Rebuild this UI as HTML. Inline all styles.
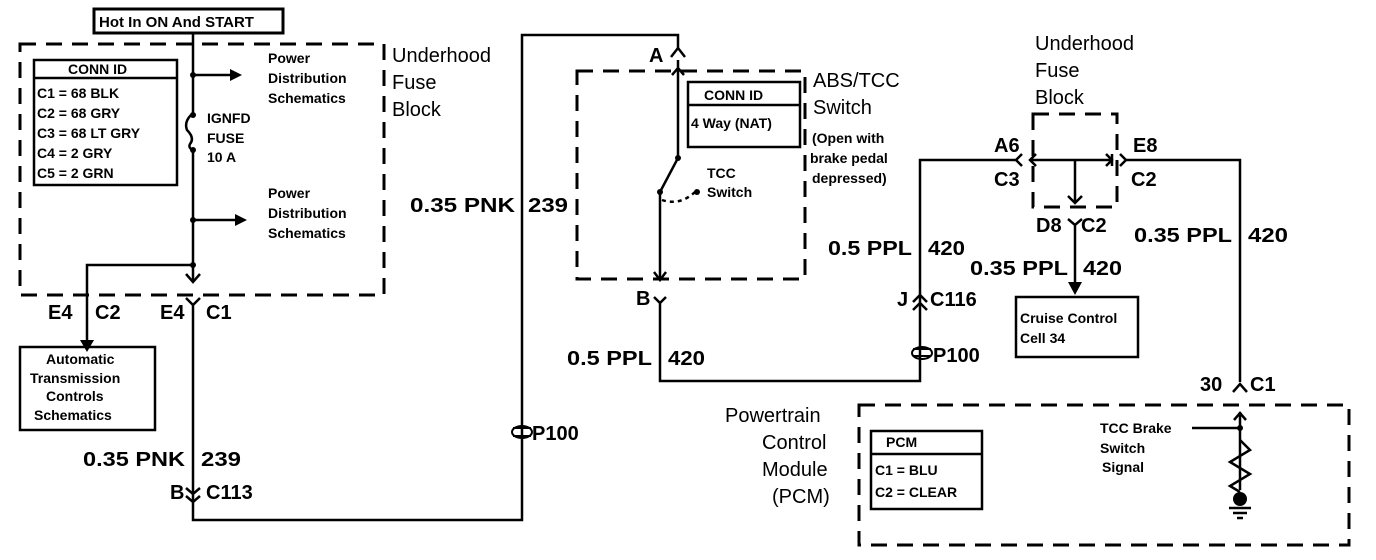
<!DOCTYPE html>
<html><head><style>
body{margin:0;background:#fff}
svg{display:block}
text{font-family:"Liberation Sans",Arial,sans-serif;font-weight:bold;fill:#000}
</style></head><body>
<svg width="1376" height="560" viewBox="0 0 1376 560" xmlns="http://www.w3.org/2000/svg">
<g fill="none" stroke="#000" stroke-width="3" stroke-dasharray="16,10">
<rect x="20" y="44" width="364" height="251"/>
<rect x="577" y="71" width="228" height="208"/>
<rect x="1033" y="114" width="84" height="93"/>
<rect x="859" y="405" width="490" height="140"/>
</g>
<g fill="none" stroke="#000" stroke-width="2.5">
<rect x="94" y="9" width="189" height="24" stroke-width="3"/>
<rect x="34" y="60" width="143" height="125"/>
<line x1="34" y1="78" x2="177" y2="78"/>
<rect x="688" y="82" width="112" height="65"/>
<line x1="688" y1="105" x2="800" y2="105"/>
<rect x="20" y="347" width="135" height="83"/>
<rect x="1016" y="297" width="122" height="60"/>
<rect x="871" y="431" width="111" height="78"/>
<line x1="871" y1="454" x2="982" y2="454"/>
<path d="M193 33 V115 M193 150 V282"/>
<path d="M191 115 Q184 122 187 130 Q195 138 190 144 Q188 148 193 150"/>
<path d="M193 75 H230 M193 220 H235"/>
<path d="M193 265 H87 V342"/>
<path d="M186 274 L193 282 L200 274"/>
<path d="M186 298 L193 305 L200 298 M193 305 V520 H522 V35 H678 V48"/>
<path d="M186 488 L193 494 L200 488 M186 496 L193 502 L200 496"/>
<path d="M671 57 L678 48 L685 57"/>
<path d="M678 60 V158 L660 192 M672 75 L678 68 L684 75 M660 192 V280"/>
<path d="M654 272 L660 280 L666 272"/>
<path d="M662 200 Q680 206 695 192" stroke-dasharray="4,4"/>
<path d="M654 297 L660 303 L666 297 M660 303 V381 H920 V160 H1016"/>
<path d="M913 302 L920 295 L927 302 M913 310 L920 303 L927 310"/>
<path d="M1022 154 L1016 160 L1022 166 M1036 154 L1030 160 L1036 166 M1030 160 H1112 M1112 154 V166 M1106 154 L1112 160 L1106 166 M1120 154 L1126 160 L1120 166 M1126 160 H1240 V382"/>
<path d="M1075 160 V203 M1068 196 L1075 203 L1082 196"/>
<path d="M1068 219 L1075 225 L1082 219 M1075 225 V285"/>
<path d="M1233 392 L1240 384 L1247 392"/>
<path d="M1240 412 V490 M1234 420 L1240 413 L1246 420"/>
<path d="M1192 428 H1240"/>
<path d="M1240 440 L1250 450 L1230 462 L1250 474 L1230 486 L1240 492"/>
<path d="M1229 508 H1251 M1233 513 H1247 M1237 518 H1243"/>
<path d="M513 428 H531 M513 436 H531 M913 349 H931 M913 356 H931" stroke-width="2"/>
</g>
<g fill="#000">
<polygon points="230,69 242,75 230,81"/><polygon points="235,214 247,220 235,226"/>
<polygon points="80,340 87,352 94,340"/><polygon points="1068,282 1075,295 1082,282"/>
<circle cx="193" cy="75" r="3"/><circle cx="193" cy="115" r="3"/><circle cx="193" cy="150" r="3"/><circle cx="193" cy="220" r="3"/><circle cx="193" cy="265" r="3"/>
<circle cx="678" cy="158" r="3"/><circle cx="660" cy="192" r="3"/><circle cx="697" cy="192" r="3"/>
<circle cx="1240" cy="428" r="3"/><circle cx="1240" cy="499" r="7"/>
<ellipse cx="522" cy="432" rx="10" ry="6" fill="none" stroke="#000" stroke-width="2"/>
<ellipse cx="922" cy="353" rx="10" ry="6" fill="none" stroke="#000" stroke-width="2"/>
</g>
<g font-size="14">
<text x="99" y="27" font-size="15">Hot In ON And START</text>
<text x="68" y="74">CONN ID</text>
<text x="37" y="98">C1 = 68 BLK</text><text x="37" y="118">C2 = 68 GRY</text><text x="37" y="138">C3 = 68 LT GRY</text><text x="37" y="158">C4 =  2 GRY</text><text x="37" y="178">C5 =  2 GRN</text>
<text x="268" y="63">Power</text><text x="268" y="83">Distribution</text><text x="268" y="103">Schematics</text>
<text x="207" y="123">IGNFD</text><text x="207" y="143">FUSE</text><text x="207" y="162">10 A</text>
<text x="268" y="198">Power</text><text x="268" y="218">Distribution</text><text x="268" y="238">Schematics</text>
<text x="46" y="364">Automatic</text><text x="30" y="383">Transmission</text><text x="46" y="401">Controls</text><text x="34" y="420">Schematics</text>
<text x="704" y="100">CONN ID</text><text x="691" y="128">4 Way (NAT)</text>
<text x="707" y="178">TCC</text><text x="707" y="197">Switch</text>
<text x="812" y="143">(Open with</text><text x="810" y="163">brake pedal</text><text x="812" y="183">depressed)</text>
<text x="1020" y="323">Cruise Control</text><text x="1020" y="343">Cell 34</text>
<text x="886" y="447">PCM</text><text x="875" y="475">C1 = BLU</text><text x="875" y="497">C2 = CLEAR</text>
<text x="1100" y="433">TCC Brake</text><text x="1100" y="453">Switch</text><text x="1102" y="472">Signal</text>
</g>
<g font-size="20">
<text x="392" y="62" style="font-weight:normal">Underhood</text><text x="392" y="89" style="font-weight:normal">Fuse</text><text x="392" y="116" style="font-weight:normal">Block</text>
<text x="813" y="87" style="font-weight:normal">ABS/TCC</text><text x="813" y="114" style="font-weight:normal">Switch</text>
<text x="1035" y="50" style="font-weight:normal">Underhood</text><text x="1035" y="77" style="font-weight:normal">Fuse</text><text x="1035" y="104" style="font-weight:normal">Block</text>
<text x="725" y="422" style="font-weight:normal">Powertrain</text><text x="762" y="449" style="font-weight:normal">Control</text><text x="762" y="476" style="font-weight:normal">Module</text><text x="772" y="503" style="font-weight:normal">(PCM)</text>
</g>
<g font-size="20">
<text x="48" y="319">E4</text><text x="95" y="319">C2</text><text x="160" y="319">E4</text><text x="206" y="319">C1</text>
<text x="83" y="466" textLength="102" lengthAdjust="spacingAndGlyphs">0.35 PNK</text><text x="201" y="466" textLength="40" lengthAdjust="spacingAndGlyphs">239</text>
<text x="170" y="499">B</text><text x="206" y="499">C113</text>
<text x="532" y="440">P100</text>
<text x="410" y="212" textLength="105" lengthAdjust="spacingAndGlyphs">0.35 PNK</text><text x="528" y="212" textLength="40" lengthAdjust="spacingAndGlyphs">239</text>
<text x="649" y="62">A</text><text x="636" y="305">B</text>
<text x="567" y="365" textLength="85" lengthAdjust="spacingAndGlyphs">0.5 PPL</text><text x="668" y="365" textLength="37" lengthAdjust="spacingAndGlyphs">420</text>
<text x="828" y="255" textLength="84" lengthAdjust="spacingAndGlyphs">0.5 PPL</text><text x="928" y="255" textLength="37" lengthAdjust="spacingAndGlyphs">420</text>
<text x="897" y="306">J</text><text x="930" y="306">C116</text>
<text x="933" y="362">P100</text>
<text x="994" y="152">A6</text><text x="994" y="186">C3</text>
<text x="1133" y="152">E8</text><text x="1131" y="186">C2</text>
<text x="1036" y="232">D8</text><text x="1081" y="232">C2</text>
<text x="970" y="275" textLength="98" lengthAdjust="spacingAndGlyphs">0.35 PPL</text><text x="1083" y="275" textLength="39" lengthAdjust="spacingAndGlyphs">420</text>
<text x="1134" y="242" textLength="98" lengthAdjust="spacingAndGlyphs">0.35 PPL</text><text x="1248" y="242" textLength="40" lengthAdjust="spacingAndGlyphs">420</text>
<text x="1200" y="391">30</text><text x="1250" y="391">C1</text>
</g>
</svg>
</body></html>
